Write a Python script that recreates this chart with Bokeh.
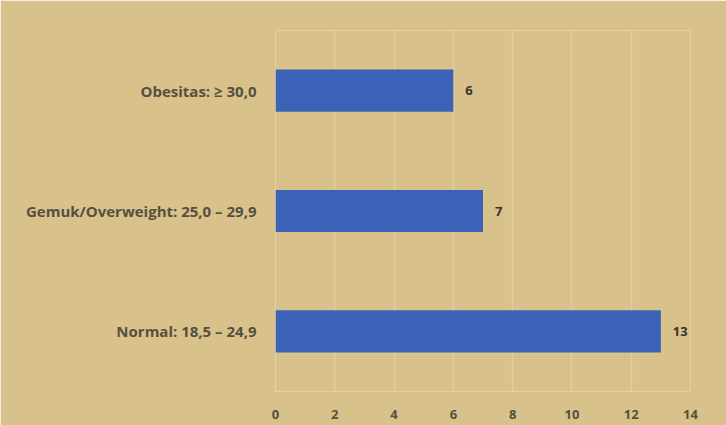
from bokeh.plotting import figure
from bokeh.models import ColumnDataSource, FixedTicker, LabelSet, Range1d
from bokeh.core.properties import value
from bokeh.embed import file_html
from bokeh.resources import INLINE

categories = ["Normal: 18,5 – 24,9", "Gemuk/Overweight: 25,0 – 29,9", "Obesitas: ≥ 30,0"]
values = [13, 7, 6]
x_ticks = [0, 2, 4, 6, 8, 10, 12, 14]

src = ColumnDataSource(dict(cat=categories, val=values, lbl=[str(v) for v in values]))

p = figure(y_range=categories, x_range=Range1d(0, 14), width=726, height=425,
           output_backend="svg", toolbar_location=None,
           min_border_left=275, min_border_right=36, min_border_top=30, min_border_bottom=34)
p.background_fill_color = "#d9c18c"
p.border_fill_color = "#d9c18c"
p.outline_line_color = None

p.hbar(y="cat", right="val", left=0, height=0.35, source=src, fill_color="#3b62b6", line_color=None)

labels = LabelSet(x="val", y="cat", text="lbl", source=src, x_offset=12, y_offset=0,
                  text_baseline="middle", text_font=value("Open Sans"), text_font_style="bold",
                  text_font_size="13px", text_color="#36342c")
p.add_layout(labels)

p.xaxis.ticker = FixedTicker(ticks=x_ticks)
for ax in (p.xaxis[0], p.yaxis[0]):
    ax.axis_line_color = None
    ax.major_tick_line_color = None
    ax.minor_tick_line_color = None
    ax.major_label_text_color = "#55503f"
    ax.major_label_text_font = "Open Sans"
    ax.major_label_text_font_style = "bold"
p.yaxis[0].major_label_text_font_size = "15px"
p.xaxis[0].major_label_text_font_size = "13px"
p.xaxis.major_label_standoff = 12
p.yaxis.major_label_standoff = 13

p.ygrid.grid_line_color = None
p.xgrid.grid_line_color = "#efe6d2"
p.xgrid.grid_line_alpha = 0.35
p.xgrid.grid_line_width = 1.5

html = file_html(p, INLINE)
open("out.html", "w").write(html)
